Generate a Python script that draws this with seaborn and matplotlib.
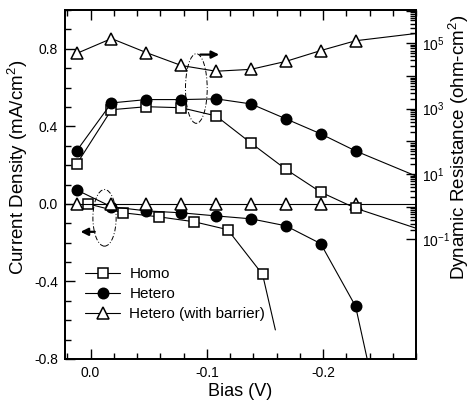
import numpy as np
import seaborn as sns
import matplotlib
matplotlib.use("Agg")
import matplotlib.pyplot as plt
from matplotlib.lines import Line2D
from matplotlib.patches import Ellipse
from matplotlib.ticker import FixedLocator, FuncFormatter, MultipleLocator, NullFormatter

sns.set_theme(style="ticks", rc={"axes.edgecolor": "black", "text.color": "black",
                                 "axes.labelcolor": "black", "xtick.color": "black",
                                 "ytick.color": "black"})
plt.rcParams['font.family'] = ['Liberation Sans', 'DejaVu Sans']
plt.rcParams['mathtext.default'] = 'regular'
plt.rcParams['axes.unicode_minus'] = False

# bias points (V)
bias = [0.012, -0.018, -0.048, -0.078, -0.108, -0.138, -0.168, -0.198, -0.228]
bias_homo_iv = [0.002, -0.028, -0.059, -0.089, -0.118, -0.148]

# current density (mA/cm2), left axis
j_homo = [0.0, -0.046, -0.067, -0.092, -0.133, -0.364]
j_hetero = [0.072, -0.015, -0.036, -0.046, -0.062, -0.077, -0.113, -0.205, -0.528]
j_barrier = [0.0, 0.0, 0.0, 0.0, 0.0, 0.0, 0.0, 0.0, 0.0]

# dynamic resistance (ohm-cm2), right axis
r_homo = [20, 930, 1150, 1070, 600, 89, 14, 2.8, 0.9]
r_hetero = [51, 1500, 1900, 1900, 2000, 1400, 490, 170, 51]
r_barrier = [4.9e4, 1.4e5, 5.2e4, 2.1e4, 1.4e4, 1.6e4, 2.8e4, 6.0e4, 1.2e5]

# where the drawn curves run on past the measured points
tail_homo_iv = ([-0.159], [-0.65])
tail_hetero_iv = ([-0.238], [-0.8])
tail_barrier_iv_x = ([0.022], [-0.28])
tail_r = {"homo": 0.22, "hetero": 8.7, "barrier": 2.0e5}
x_edge = -0.28

labels = ["Homo", "Hetero", "Hetero (with barrier)"]
styles = {"Homo": ("s", 7.0, "white"),
          "Hetero": ("o", 7.5, "black"),
          "Hetero (with barrier)": ("^", 8.5, "white")}


def draw(ax, x, y, name, x_pre=(), y_pre=(), x_post=(), y_post=()):
    marker, ms, face = styles[name]
    xs = list(x_pre) + list(x) + list(x_post)
    ys = list(y_pre) + list(y) + list(y_post)
    idx = list(range(len(x_pre), len(x_pre) + len(x)))
    sns.lineplot(x=xs, y=ys, ax=ax, sort=False, estimator=None, color="black",
                 linewidth=0.8, marker=marker, markersize=ms, mfc=face, mec="black",
                 mew=1.1, markevery=idx)


fig = plt.figure(figsize=(4.7, 4.04), dpi=100)
ax = fig.add_axes([65 / 470, 1 - 359 / 404, 351 / 470, 349 / 404])
ax2 = ax.twinx()
ax2.set_yscale("log")

# current density curves
draw(ax, bias_homo_iv, j_homo, "Homo", x_post=tail_homo_iv[0], y_post=tail_homo_iv[1])
draw(ax, bias, j_hetero, "Hetero", x_post=tail_hetero_iv[0], y_post=tail_hetero_iv[1])
draw(ax, bias, j_barrier, "Hetero (with barrier)",
     x_pre=tail_barrier_iv_x[0], y_pre=[0.0], x_post=tail_barrier_iv_x[1], y_post=[0.0])

# resistance curves
draw(ax2, bias, r_homo, "Homo", x_post=[x_edge], y_post=[tail_r["homo"]])
draw(ax2, bias, r_hetero, "Hetero", x_post=[x_edge], y_post=[tail_r["hetero"]])
draw(ax2, bias, r_barrier, "Hetero (with barrier)", x_post=[x_edge], y_post=[tail_r["barrier"]])

ax.set_xlim(0.022, -0.28)
ax.set_ylim(-0.8, 1.0)
ax2.set_ylim(10 ** -4.66, 10 ** 6.02)

ax.xaxis.set_major_locator(FixedLocator([0.0, -0.1, -0.2]))
ax.xaxis.set_minor_locator(MultipleLocator(0.02))
ax.yaxis.set_major_locator(FixedLocator([-0.8, -0.4, 0.0, 0.4, 0.8]))
ax.yaxis.set_minor_locator(MultipleLocator(0.1))
fmt = FuncFormatter(lambda v, p: f"{v:.1f}")
ax.xaxis.set_major_formatter(fmt)
ax.yaxis.set_major_formatter(fmt)
ax.tick_params(which="both", direction="in", top=True, right=False, labelsize=10, width=1.0, pad=5)
ax.tick_params(which="major", length=7)
ax.tick_params(which="minor", length=4)

ax2.yaxis.set_major_locator(FixedLocator([10.0 ** k for k in range(-1, 7)]))
ax2.yaxis.set_major_formatter(FuncFormatter(
    lambda v, p: f"10$^{{{int(round(np.log10(v)))}}}$" if int(round(np.log10(v))) % 2 else ""))
ax2.yaxis.set_minor_locator(FixedLocator([m * 10.0 ** k for k in range(-1, 6) for m in range(2, 10)]))
ax2.yaxis.set_minor_formatter(NullFormatter())
ax2.tick_params(which="both", direction="in", labelsize=10, width=1.0, pad=4)
ax2.tick_params(which="major", length=7)
ax2.tick_params(which="minor", length=4)

for a in (ax, ax2):
    for s in a.spines.values():
        s.set_linewidth(1.3)

ax.set_xlabel("Bias (V)", fontsize=13, labelpad=2)
ax.set_ylabel("Current Density (mA/cm$^2$)", fontsize=13.5)
ax.yaxis.set_label_coords(-0.1, 0.55)
ax2.set_ylabel("Dynamic Resistance (ohm-cm$^2$)", fontsize=13.5)
ax2.yaxis.set_label_coords(1.088, 0.605)

# ellipses grouping the curves with arrows to their axis
ell_kw = dict(fill=False, ec="black", lw=0.7, ls=(0, (5, 2, 1, 2)))
ax.add_patch(Ellipse((-0.091, 0.595), 0.0187, 0.359, **ell_kw))
ax.add_patch(Ellipse((-0.012, -0.072), 0.020, 0.292, **ell_kw))
arr = dict(arrowstyle="-|>", color="black", lw=1.6, mutation_scale=11)
ax.annotate("", xy=(-0.113, 0.77), xytext=(-0.092, 0.77), arrowprops=arr)
ax.annotate("", xy=(0.011, -0.144), xytext=(-0.006, -0.144), arrowprops=arr)

handles = []
for name in labels:
    marker, ms, face = styles[name]
    handles.append(Line2D([], [], color="black", lw=0.8, marker=marker, markersize=ms,
                          mfc=face, mec="black", mew=1.1))
ax.legend(handles, labels, loc="upper left", bbox_to_anchor=(0.057, 0.264), frameon=False,
          fontsize=11, handlelength=2.3, handletextpad=0.6, labelspacing=0.4,
          borderpad=0, borderaxespad=0)

fig.savefig("out.png", dpi=100)
